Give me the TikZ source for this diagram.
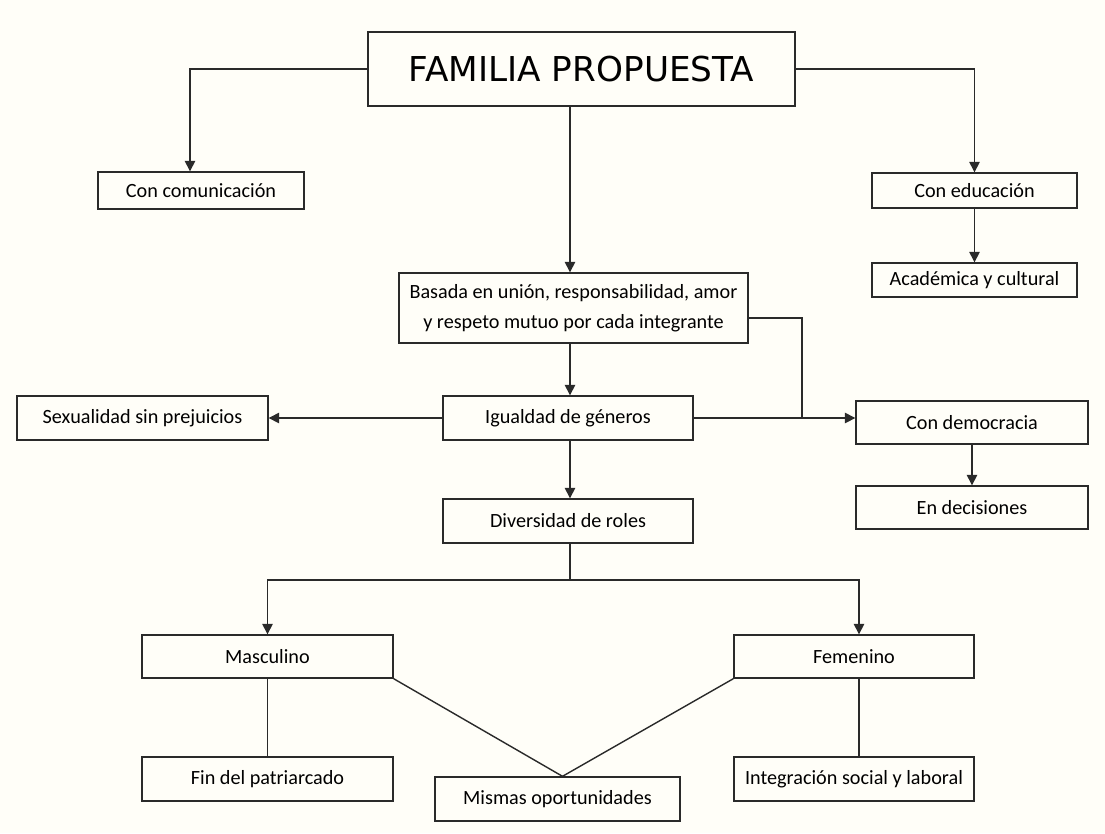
\documentclass[tikz,border=0pt]{standalone}
\usepackage{fontspec}
\setmainfont{Carlito}
\newfontfamily\headfont{DejaVu Sans}
\usetikzlibrary{arrows.meta}

\definecolor{paper}{HTML}{FFFEF8}
\definecolor{ink}{HTML}{2A2A2A}

\tikzstyle{headbox}=[rectangle, minimum width=8.54cm, minimum height=1.48cm, inner sep=0pt, text centered, draw=ink, line width=0.8pt, font=\headfont\fontsize{19.5}{22}\selectfont]
\tikzstyle{itembox}=[rectangle, minimum height=0.88cm, inner sep=0pt, align=center, draw=ink, line width=0.8pt, font=\fontsize{11.5}{17}\selectfont]
\tikzstyle{arrow}=[draw=ink, line width=0.8pt, -{Triangle[length=6pt,width=6pt]}]
\tikzstyle{link}=[draw=ink, line width=0.8pt]

\begin{document}
\begin{tikzpicture}[x=0.02cm, y=-0.02cm]

\fill[paper] (0,0) rectangle (1105,833);
\useasboundingbox (0,0) rectangle (1105,833);

\node(fam)[headbox] at (581.5,69) {FAMILIA PROPUESTA};
\node(com)[itembox, minimum width=4.12cm, minimum height=0.74cm] at (201,190.5) {Con comunicación};
\node(edu)[itembox, minimum width=4.1cm, minimum height=0.7cm] at (974.5,190.5) {Con educación};
\node(aca)[itembox, minimum width=4.1cm, minimum height=0.68cm] at (974.5,280) {Académica y cultural};
\node(bas)[itembox, minimum width=6.98cm, minimum height=1.4cm] at (573.5,308) {Basada en unión, responsabilidad, amor\\y respeto mutuo por cada integrante};
\node(igu)[itembox, minimum width=5cm] at (568,418) {Igualdad de géneros};
\node(sex)[itembox, minimum width=5.02cm] at (142.5,418) {Sexualidad sin prejuicios};
\node(dem)[itembox, minimum width=4.64cm, minimum height=0.86cm] at (972,422.5) {Con democracia};
\node(dec)[itembox, minimum width=4.64cm, minimum height=0.86cm] at (972,507.5) {En decisiones};
\node(div)[itembox, minimum width=5cm] at (568,521) {Diversidad de roles};
\node(mas)[itembox, minimum width=5.02cm, minimum height=0.86cm] at (267.5,656.5) {Masculino};
\node(fin)[itembox, minimum width=5.02cm] at (267.5,779) {Fin del patriarcado};
\node(mis)[itembox, minimum width=4.9cm] at (557.5,799) {Mismas oportunidades};
\node(fem)[itembox, minimum width=4.8cm, minimum height=0.86cm] at (854,656.5) {Femenino};
\node(int)[itembox, minimum width=4.8cm] at (854,779) {Integración social y laboral};

\coordinate(join) at (802,418);
\coordinate(split) at (570,580);

\draw[arrow](fam.west)-|([xshift=-0.22cm]com.north);
\draw[arrow](fam.east)-|(edu.north);
\draw[arrow](edu)--(aca);
\draw[arrow](fam.south -| split)--(bas.north -| split);
\draw[arrow](bas.south -| split)--(igu.north -| split);
\draw[link]([yshift=-0.2cm]bas.east)-|(join);
\draw[arrow](igu)--(sex);
\draw[arrow](igu.east)--(igu.east -| dem.west);
\draw[arrow](dem)--(dec);
\draw[arrow](igu.south -| split)--(div.north -| split);
\draw[link](div.south -| split)--(split);
\draw[arrow](split)-|(mas.north);
\draw[arrow](split)-|([xshift=0.1cm]fem.north);
\draw[link](mas)--(fin);
\draw[link]([xshift=0.1cm]fem.south)--([xshift=0.1cm]int.north);
\draw[link](mas.south east)--([xshift=0.1cm]mis.north);
\draw[link](fem.south west)--([xshift=0.1cm]mis.north);

\end{tikzpicture}
\end{document}
